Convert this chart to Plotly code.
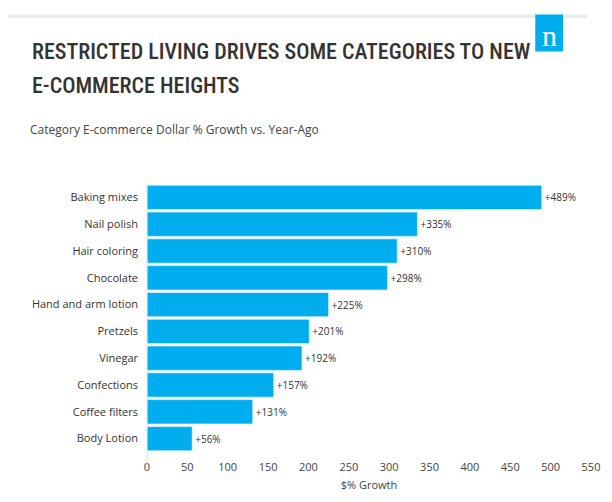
import plotly.graph_objects as go

# data
categories = ['Baking mixes', 'Nail polish', 'Hair coloring', 'Chocolate',
              'Hand and arm lotion', 'Pretzels', 'Vinegar', 'Confections',
              'Coffee filters', 'Body Lotion']
growth = [489, 335, 310, 298, 225, 201, 192, 157, 131, 56]
x_ticks = [0, 50, 100, 150, 200, 250, 300, 350, 400, 450, 500, 550]

# page body adds an 8px margin, so the figure is drawn 8px smaller and shifted
OFF = 8
W, H = 612 - OFF, 502 - OFF
L, R, T, B = 147 - OFF, 27 - OFF, 184 - OFF, 43 - OFF
PW, PH = W - L - R, H - T - B


def px(x):
    # screen pixel -> paper x
    return (x - OFF - L) / PW


def py(y):
    # screen pixel -> paper y
    return (H - B - (y - OFF)) / PH


fig = go.Figure()
fig.add_trace(go.Bar(
    x=growth, y=categories, orientation='h',
    marker=dict(color='#00aeef', line=dict(color='rgba(255,255,255,0.6)', width=1)),
    text=growth, texttemplate='+%{x}%', textposition='outside',
    textfont=dict(family='Open Sans', size=10, color='#333333'),
    cliponaxis=False, hoverinfo='skip'
))

title_font = dict(family='Roboto Condensed, Roboto, sans-serif',
                  size=22, weight=500, color='#333333')

fig.update_layout(
    width=W, height=H,
    margin=dict(l=L, r=R, t=T, b=B),
    paper_bgcolor='white', plot_bgcolor='white',
    showlegend=False, bargap=0.09,
    font=dict(family='Open Sans', size=11, color='#333333'),
    xaxis=dict(range=[0, 550], tickvals=x_ticks, showgrid=False, zeroline=False,
               showline=False, ticks='outside', ticklen=5, tickcolor='rgba(0,0,0,0)',
               tickfont=dict(size=11, color='#444444'),
               title=dict(text='$% Growth', font=dict(size=11, color='#444444'),
                          standoff=8)),
    yaxis=dict(autorange='reversed', showgrid=False, zeroline=False, showline=False,
               ticklabelstandoff=8, tickfont=dict(size=11, color='#333333')),
    shapes=[
        # top grey rule
        dict(type='rect', xref='paper', yref='paper', x0=px(6), x1=px(589),
             y0=py(9), y1=py(5), fillcolor='#e9ecef', line=dict(width=0), layer='below'),
        # logo square
        dict(type='rect', xref='paper', yref='paper', x0=px(537), x1=px(565),
             y0=py(44), y1=py(5), fillcolor='#00aeef', line=dict(width=0)),
        # axis line
        dict(type='line', xref='paper', yref='paper', x0=0, x1=0,
             y0=py(480), y1=py(183), line=dict(color='#dddddd', width=1)),
    ],
    annotations=[
        dict(text='RESTRICTED LIVING DRIVES SOME CATEGORIES TO NEW', xref='paper', yref='paper',
             x=px(29), y=py(44), xanchor='left', yanchor='middle', showarrow=False,
             font=title_font),
        dict(text='E-COMMERCE HEIGHTS', xref='paper', yref='paper',
             x=px(29), y=py(80), xanchor='left', yanchor='middle', showarrow=False,
             font=title_font),
        dict(text='Category E-commerce Dollar % Growth vs. Year-Ago', xref='paper', yref='paper',
             x=px(27), y=py(126), xanchor='left', yanchor='middle', showarrow=False,
             font=dict(family='Open Sans', size=12, color='#444444')),
        dict(text='n', xref='paper', yref='paper', x=px(551), y=py(27),
             xanchor='center', yanchor='middle', showarrow=False,
             font=dict(family='Liberation Serif, DejaVu Serif, serif', size=30, color='white')),
    ],
)

fig.write_html("out.html")
